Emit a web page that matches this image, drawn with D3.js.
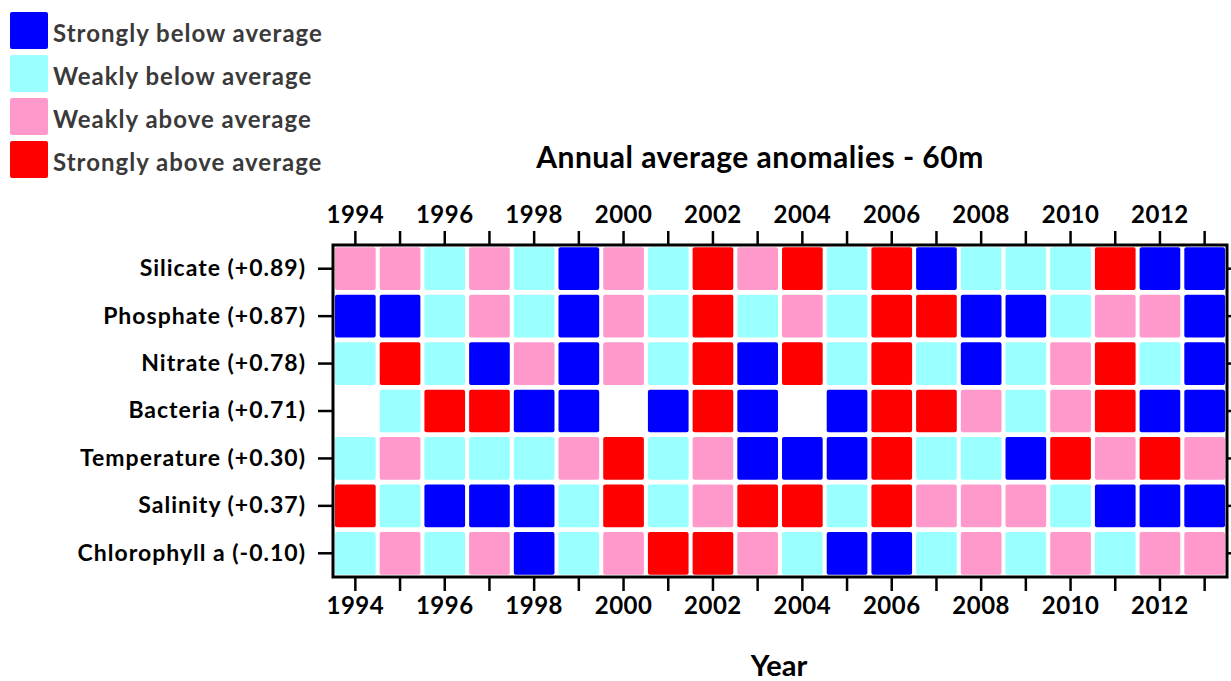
<!DOCTYPE html>
<html>
<head>
<meta charset="utf-8">
<script src="https://cdn.jsdelivr.net/npm/d3@7"></script>
<style>
  html, body { margin: 0; padding: 0; background: #fff; }
  svg { display: block; font-family: Lato, "Open Sans", sans-serif; font-weight: bold; }
</style>
</head>
<body>
<svg id="chart" width="1231" height="681"></svg>
<script>
// ---- data ----
const years = d3.range(1994, 2014);
const tickYears = [1994, 1996, 1998, 2000, 2002, 2004, 2006, 2008, 2010, 2012];
const variables = [
  "Silicate (+0.89)", "Phosphate (+0.87)", "Nitrate (+0.78)", "Bacteria (+0.71)",
  "Temperature (+0.30)", "Salinity (+0.37)", "Chlorophyll a (-0.10)"
];
// categories: 0 strongly below, 1 weakly below, 2 weakly above, 3 strongly above, null = no data
const categories = ["Strongly below average", "Weakly below average", "Weakly above average", "Strongly above average"];
const categoryColors = ["#0000ff", "#99ffff", "#ff99cc", "#ff0000"];
const silicate    = [2,2,1,2,1,0,2,1,3,2,3,1,3,0,1,1,1,3,0,0];
const phosphate   = [0,0,1,2,1,0,2,1,3,1,2,1,3,3,0,0,1,2,2,0];
const nitrate     = [1,3,1,0,2,0,2,1,3,0,3,1,3,1,0,1,2,3,1,0];
const bacteria    = [null,1,3,3,0,0,null,0,3,0,null,0,3,3,2,1,2,3,0,0];
const temperature = [1,2,1,1,1,2,3,1,2,0,0,0,3,1,1,0,3,2,3,2];
const salinity    = [3,1,0,0,0,1,3,1,2,3,3,1,3,2,2,2,1,0,0,0];
const chlorophyll = [1,2,1,2,0,1,2,3,3,2,1,0,0,1,2,1,2,1,2,2];
const rows = [silicate, phosphate, nitrate, bacteria, temperature, salinity, chlorophyll];

// ---- layout ----
const svg = d3.select("#chart");
const plot = { left: 333, right: 1227, top: 245, bottom: 577 };

const x = d3.scaleBand().domain(years).range([plot.left, plot.right]).paddingInner(0.09).paddingOuter(0.045);
const y = d3.scaleBand().domain(variables).range([plot.top, plot.bottom]).paddingInner(0.1).paddingOuter(0.05);
const xTick = d3.scaleBand().domain(years).range([plot.left, plot.right]);
const yTick = d3.scaleBand().domain(variables).range([plot.top, plot.bottom]);
const color = d3.scaleOrdinal().domain([0,1,2,3]).range(categoryColors);

// cells
const cells = [];
rows.forEach((r, i) => r.forEach((v, j) => { if (v !== null) cells.push({ v: variables[i], yr: years[j], c: v }); }));
svg.append("g").selectAll("rect").data(cells).join("rect")
  .attr("x", d => x(d.yr)).attr("y", d => y(d.v))
  .attr("width", x.bandwidth()).attr("height", y.bandwidth())
  .attr("rx", 2).attr("ry", 2)
  .attr("fill", d => color(d.c));

// axes
const axisStyle = g => {
  g.selectAll(".domain").remove();
  g.selectAll(".tick line").attr("stroke", "#000").attr("stroke-width", 2.5);
  g.selectAll(".tick text").attr("fill", "#000").style("font-family", "Lato, sans-serif").style("font-weight", "bold");
};
const xTop = d3.axisTop(xTick).tickValues(years).tickSize(14).tickPadding(8)
  .tickFormat(d => tickYears.includes(d) ? d : "");
svg.append("g").attr("transform", `translate(0,${plot.top})`).call(xTop).call(axisStyle)
  .selectAll(".tick text").style("font-size", "24px").style("letter-spacing", "0.5px");
const xBot = d3.axisBottom(xTick).tickValues(years).tickSize(14).tickFormat(d => tickYears.includes(d) ? d : "").tickPadding(6);
svg.append("g").attr("transform", `translate(0,${plot.bottom})`).call(xBot).call(axisStyle)
  .selectAll(".tick text").style("font-size", "24px").style("letter-spacing", "0.5px");
const yLeft = d3.axisLeft(yTick).tickSize(15).tickPadding(12);
svg.append("g").attr("transform", `translate(${plot.left},0)`).call(yLeft).call(axisStyle)
  .selectAll(".tick text").style("font-size", "23px").style("letter-spacing", "1px");
const yRight = d3.axisRight(yTick).tickSize(10).tickFormat("");
svg.append("g").attr("transform", `translate(${plot.right},0)`).call(yRight).call(axisStyle);

// frame
svg.append("rect").attr("x", plot.left).attr("y", plot.top)
  .attr("width", plot.right - plot.left).attr("height", plot.bottom - plot.top)
  .attr("fill", "none").attr("stroke", "#000").attr("stroke-width", 3);

// title & axis label
svg.append("text").attr("x", 760).attr("y", 168).attr("text-anchor", "middle")
  .style("font-size", "30px").style("letter-spacing", "0.5px").attr("fill", "#000").text("Annual average anomalies - 60m");
svg.append("text").attr("x", 779).attr("y", 676).attr("text-anchor", "middle")
  .style("font-size", "29px").attr("fill", "#000").text("Year");

// legend
const leg = svg.append("g");
const legY = d3.scaleBand().domain(categories).range([10, 182]);
categories.forEach((c, i) => {
  const g = leg.append("g").attr("transform", `translate(10,${legY(c) + 2})`);
  g.append("rect").attr("width", 38).attr("height", 37).attr("rx", 2).attr("fill", categoryColors[i]);
  g.append("text").attr("x", 43).attr("y", 29.5).style("font-size", "24px").style("letter-spacing", "1px")
    .attr("fill", "#3a3a3a").text(c);
});
</script>
</body>
</html>
